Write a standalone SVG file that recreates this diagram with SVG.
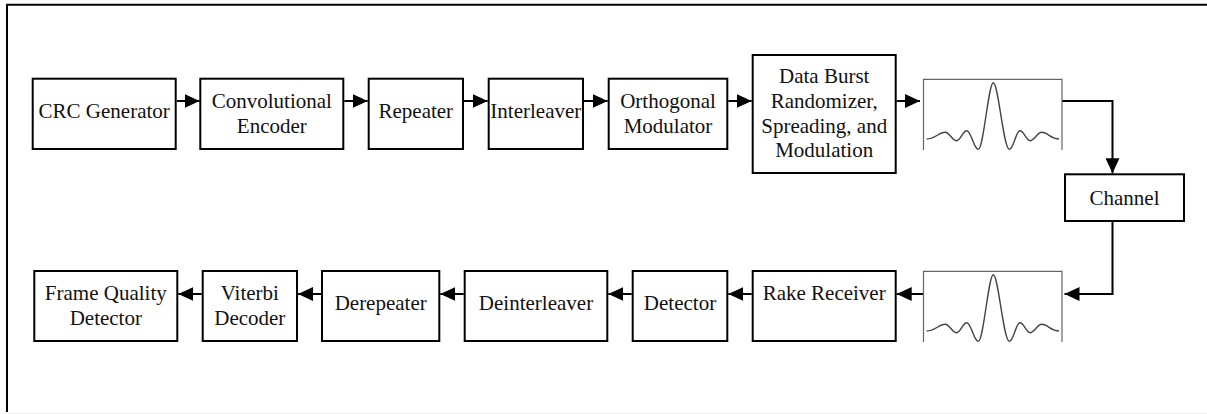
<svg xmlns="http://www.w3.org/2000/svg" width="1207" height="414" viewBox="0 0 1207 414">
<defs>
<style>
.box{fill:#fff;stroke:#000;stroke-width:2}
.t{font-family:"Liberation Serif","Times New Roman",serif;font-size:21px;fill:#111;text-anchor:middle}
.wf{fill:none;stroke:#666;stroke-width:1.2}
.wave{fill:none;stroke:#444;stroke-width:1.4}
.c{fill:none;stroke:#000;stroke-width:2;marker-end:url(#ah)}
</style>
<marker id="ah" markerUnits="userSpaceOnUse" markerWidth="16" markerHeight="14" refX="15" refY="7" orient="auto">
<path d="M0,0 L15,7 L0,14 z" fill="#000"/>
</marker>
<path id="sinc" d="M926.7,139 C935,139 939,132.3 945,132.3 C949.7,132.3 952,140.7 956.7,140.7 C960.7,140.7 962.7,130.7 966.7,130.7 C971.3,130.7 973.7,149.3 978.3,149.3 C983.5,149.3 988.5,82.7 993.3,82.7 C998.3,82.7 1003.5,149.3 1009.3,149.3 C1013.9,149.3 1015.7,130.7 1020,130.7 C1024,130.7 1026,140.7 1030,140.7 C1034.7,140.7 1037,132.3 1041.7,132.3 C1047.7,132.3 1051,139 1059,139"/>
</defs>
<rect x="0" y="0" width="1207" height="414" fill="#fff"/>
<path d="M7,412 V4.8 H1210" fill="none" stroke="#000" stroke-width="2"/>
<line x1="8" y1="413.5" x2="1207" y2="413.5" stroke="#eee" stroke-width="1"/>

<g id="connectors">
<path class="c" d="M177,101 H199.5"/>
<path class="c" d="M344.3,101 H367.7"/>
<path class="c" d="M464,101 H487.7"/>
<path class="c" d="M584,101 H607.7"/>
<path class="c" d="M728.3,101 H751.7"/>
<path class="c" d="M896.7,101 H920"/>
<path class="c" d="M1062,101 H1112.5 V173.3"/>
<path class="c" d="M1112.5,222 V294 H1064.5"/>
<path class="c" d="M923,294 H896.7"/>
<path class="c" d="M751.7,294 H728.3"/>
<path class="c" d="M631.7,294 H608.3"/>
<path class="c" d="M463.7,294 H440.3"/>
<path class="c" d="M321,294 H298"/>
<path class="c" d="M201.7,294 H178.3"/>
</g>

<g id="crc"><rect class="box" x="32.7" y="78.7" width="143" height="70.3"/><text class="t" x="104.2" y="118">CRC Generator</text></g>
<g id="conv"><rect class="box" x="200.3" y="78.7" width="143" height="70.3"/><text class="t" x="271.8" y="108.3">Convolutional</text><text class="t" x="271.8" y="132.7">Encoder</text></g>
<g id="repeater"><rect class="box" x="368.7" y="78.7" width="94.3" height="70.3"/><text class="t" x="415.8" y="118">Repeater</text></g>
<g id="interleaver"><rect class="box" x="488.7" y="78.7" width="94.3" height="70.3"/><text class="t" x="535.8" y="118">Interleaver</text></g>
<g id="orth"><rect class="box" x="608.7" y="78.7" width="118.6" height="70.3"/><text class="t" x="668" y="108.3">Orthogonal</text><text class="t" x="668" y="133">Modulator</text></g>
<g id="databurst"><rect class="box" x="752.7" y="55" width="143" height="118"/><text class="t" x="824.2" y="83.3">Data Burst</text><text class="t" x="824.2" y="108">Randomizer,</text><text class="t" x="824.2" y="132.7">Spreading, and</text><text class="t" x="824.2" y="157.3">Modulation</text></g>
<g id="wave-tx"><path class="wf" d="M923.5,150 V79.3 H1062 V150"/><use href="#sinc" class="wave"/></g>
<g id="channel"><rect class="box" x="1065" y="174.3" width="119" height="46.7"/><text class="t" x="1124.5" y="205">Channel</text></g>
<g id="wave-rx"><path class="wf" d="M923.5,342 V271.3 H1062 V342"/><use href="#sinc" class="wave" transform="translate(0,192)"/></g>
<g id="rake"><rect class="box" x="752.7" y="271" width="143" height="70"/><text class="t" x="824.2" y="300">Rake Receiver</text></g>
<g id="detector"><rect class="box" x="632.7" y="271" width="94.6" height="70"/><text class="t" x="680" y="310">Detector</text></g>
<g id="deinterleaver"><rect class="box" x="464.7" y="271" width="142.6" height="70"/><text class="t" x="536" y="310">Deinterleaver</text></g>
<g id="derepeater"><rect class="box" x="322" y="271" width="117.3" height="70"/><text class="t" x="380.7" y="310">Derepeater</text></g>
<g id="viterbi"><rect class="box" x="202.7" y="271" width="94.3" height="70"/><text class="t" x="249.8" y="300">Viterbi</text><text class="t" x="249.8" y="324.5">Decoder</text></g>
<g id="fqd"><rect class="box" x="34.3" y="271" width="143" height="70"/><text class="t" x="105.8" y="300">Frame Quality</text><text class="t" x="105.8" y="324.5">Detector</text></g>
</svg>
